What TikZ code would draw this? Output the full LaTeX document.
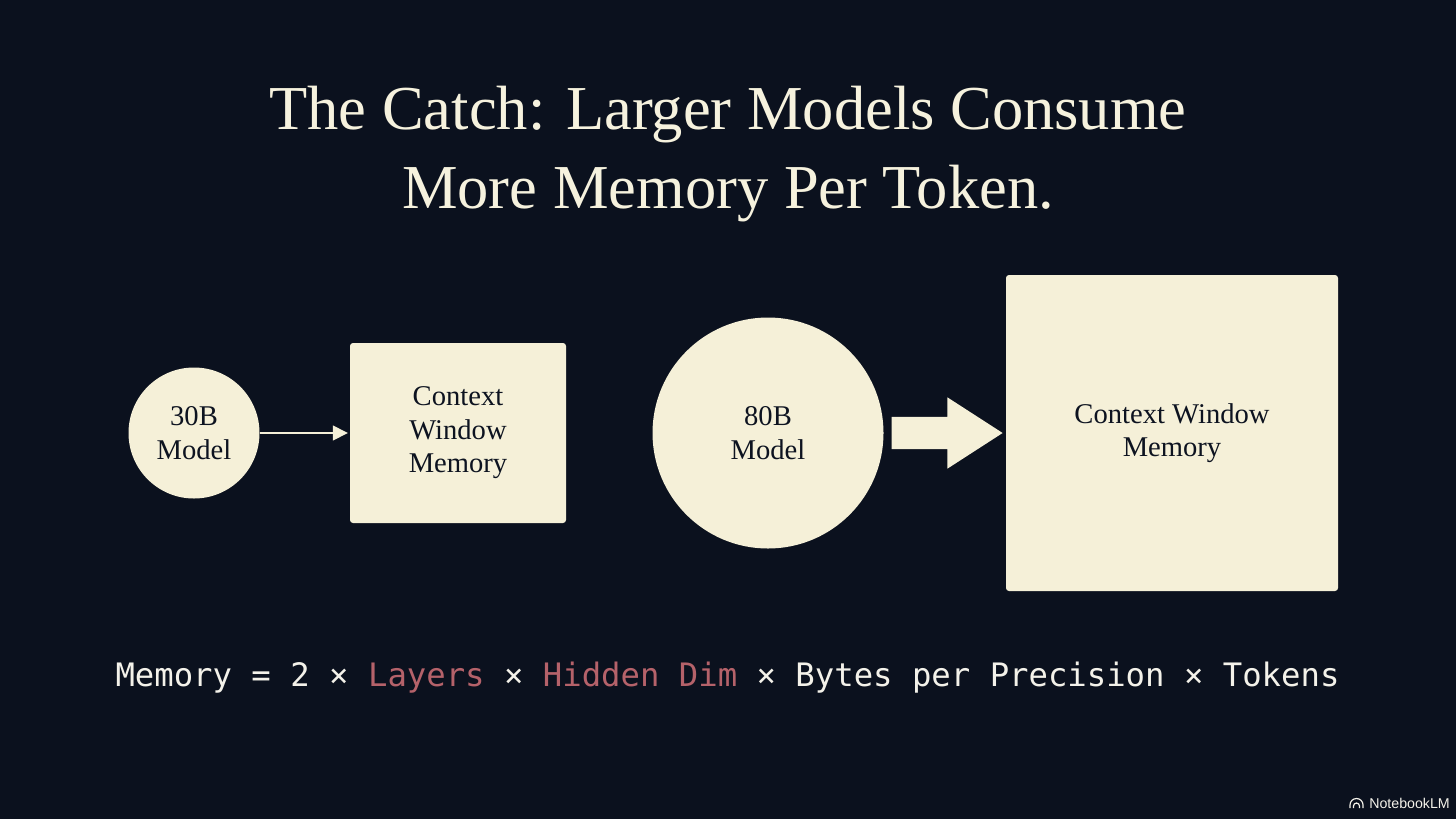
\documentclass[tikz,border=0pt]{standalone}
\usepackage{fontspec}
\setmainfont{Liberation Serif}
\newfontfamily\formulafont{DejaVu Sans Mono}
\newfontfamily\markfont{Liberation Sans}
\usetikzlibrary{shapes.arrows,arrows.meta}
\definecolor{bgcol}{HTML}{0B111E}
\definecolor{creamcol}{HTML}{F5F0D8}
\definecolor{inkcol}{HTML}{0D1320}
\definecolor{titlecol}{HTML}{F6F2DE}
\definecolor{redcol}{HTML}{B5626A}
\definecolor{whitecol}{HTML}{F4F2EA}
\tikzset{
  shapelabel/.style={text=inkcol,align=center,inner sep=0pt,font=\fontsize{28.6}{33.5}\selectfont},
  roundshape/.style={shapelabel,circle,fill=creamcol},
  memorybox/.style={shapelabel,rectangle,fill=creamcol,rounded corners=3pt},
}
\begin{document}
\begin{tikzpicture}[x=1pt,y=-1pt]
\useasboundingbox[fill=bgcol] (0,0) rectangle (1456,819);
\node[text=titlecol,align=center,inner sep=0pt,font=\fontsize{62.5}{79}\selectfont] (title) at (728,154.5) {The Catch: Larger Models Consume\\More Memory Per Token.};
\node[roundshape,minimum size=131pt] (m30) at (194,433) {30B\\Model};
\node[memorybox,minimum width=216pt,minimum height=180pt] (c30) at (458,433) {Context\\Window\\Memory};
\node[roundshape,minimum size=231pt] (m80) at (768,433) {80B\\Model};
\node[memorybox,minimum width=332pt,minimum height=316pt] (c80) at (1172,433) {Context Window\\Memory};
\draw[creamcol,line width=1.5pt,shorten >=2pt,-{Triangle[length=15pt,width=15pt]}] (m30) -- (c30);
\node[single arrow,fill=creamcol,inner sep=0pt,anchor=tip,minimum height=111pt,minimum width=71pt,single arrow head extend=19.5pt,single arrow head indent=0pt,single arrow tip angle=65.7] (bigarrow) at (1003,433) {\rule{0pt}{32pt}};
\node[text=whitecol,inner sep=0pt,font=\formulafont\fontsize{32.27}{36}\selectfont] (formula) at (727.5,677.5) {Memory = 2 × \textcolor{redcol}{Layers} × \textcolor{redcol}{Hidden Dim} × Bytes per Precision × Tokens};
\node[text=whitecol,inner sep=0pt,anchor=east,font=\markfont\fontsize{14.2}{15}\selectfont] (brand) at (1450,803) {NotebookLM};
\begin{scope}[whitecol,line width=1.2pt]
\draw (1350,808) -- (1350,805) arc[start angle=180,end angle=360,radius=6.5] -- (1363,808);
\draw (1353.5,808) -- (1353.5,806) arc[start angle=180,end angle=360,radius=3] -- (1359.5,808);
\end{scope}
\end{tikzpicture}
\end{document}
